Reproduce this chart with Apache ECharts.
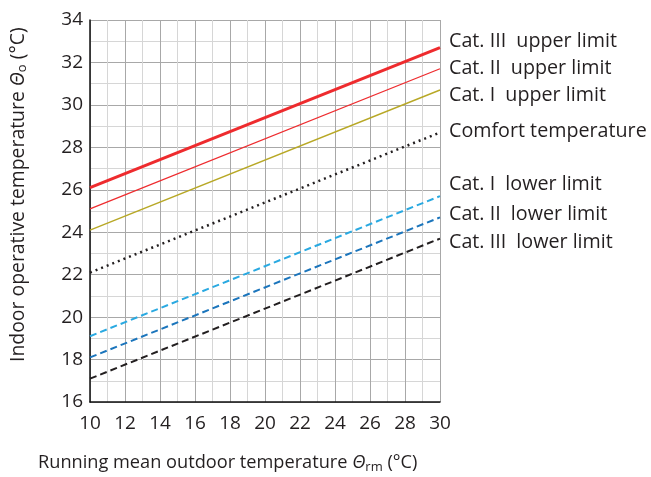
<!DOCTYPE html>
<html>
<head>
<meta charset="utf-8">
<script src="https://cdn.jsdelivr.net/npm/echarts@6/dist/echarts.min.js"></script>
<style>html,body{margin:0;padding:0;background:#fff}#c{width:651px;height:477px}</style>
</head>
<body>
<div id="c"></div>
<script>
var xValues = [10, 30];
var catIIIUpper = [26.1, 32.7];
var catIIUpper = [25.1, 31.7];
var catIUpper = [24.1, 30.7];
var comfort = [22.1, 28.7];
var catILower = [19.1, 25.7];
var catIILower = [18.1, 24.7];
var catIIILower = [17.1, 23.7];
var xTicks = [10, 12, 14, 16, 18, 20, 22, 24, 26, 28, 30];
var yTicks = [16, 18, 20, 22, 24, 26, 28, 30, 32, 34];

var FONT = '"Open Sans", "Noto Sans", sans-serif';
function pairs(arr) { return xValues.map(function (x, i) { return [x, arr[i]]; }); }

function mk(name, data, color, width, type, dy) {
  return {
    name: name, type: 'line', data: pairs(data), symbol: 'none', silent: true,
    lineStyle: { color: color, width: width, type: type },
    endLabel: {
      show: true, formatter: name, color: '#231f20', fontSize: 19.7,
      fontFamily: FONT, distance: 9, offset: [0, dy]
    }
  };
}

var chart = echarts.init(document.getElementById('c'));
chart.setOption({
  animation: false,
  grid: { left: 90, right: 211, top: 20, bottom: 75 },
  xAxis: {
    type: 'value', min: 10, max: 30, interval: 2,
    axisLine: { show: true, onZero: false, lineStyle: { color: '#111', width: 1.5 } },
    axisTick: { show: false },
    axisLabel: { color: '#231f20', fontSize: 19, fontFamily: FONT, margin: 12,
      formatter: function (v) { return xTicks.indexOf(v) >= 0 ? String(v) : ''; } },
    splitLine: { show: true, lineStyle: { color: '#a8a8a8', width: 1 } },
    minorTick: { show: false, splitNumber: 2 },
    minorSplitLine: { show: true, lineStyle: { color: '#d6d6d6', width: 1 } }
  },
  yAxis: {
    type: 'value', min: 16, max: 34, interval: 2,
    axisLine: { show: true, onZero: false, lineStyle: { color: '#111', width: 1.5 } },
    axisTick: { show: false },
    axisLabel: { color: '#231f20', fontSize: 19, fontFamily: FONT, margin: 7,
      formatter: function (v) { return yTicks.indexOf(v) >= 0 ? String(v) : ''; } },
    splitLine: { show: true, lineStyle: { color: '#a8a8a8', width: 1 } },
    minorTick: { show: false, splitNumber: 2 },
    minorSplitLine: { show: true, lineStyle: { color: '#d6d6d6', width: 1 } }
  },
  series: [
    mk('Cat. III  upper limit', catIIIUpper, '#ee2b2e', 3, 'solid', -6),
    mk('Cat. II  upper limit', catIIUpper, '#ee2b2e', 1.2, 'solid', 0),
    mk('Cat. I  upper limit', catIUpper, '#b8a826', 1.5, 'solid', 5),
    mk('Comfort temperature', comfort, '#231f20', 2.5, [2, 4], -1),
    mk('Cat. I  lower limit', catILower, '#29a9e1', 2, [7, 4], -12),
    mk('Cat. II  lower limit', catIILower, '#1b75bc', 2, [7, 4], -3),
    mk('Cat. III  lower limit', catIIILower, '#231f20', 2, [7, 4], 4)
  ],
  graphic: [
    {
      type: 'text', left: 38, top: 454,
      style: {
        text: '{n|Running mean outdoor temperature }{t|Θ}{s|rm}{n| (°C)}',
        rich: {
          n: { fontSize: 18.2, fontFamily: FONT, fill: '#231f20' },
          t: { fontSize: 18.2, fontFamily: FONT, fontStyle: 'italic', fill: '#231f20' },
          s: { fontSize: 13, fontFamily: FONT, fill: '#231f20', padding: [9, 0, 0, 0] }
        }
      }
    },
    {
      type: 'text', x: 7, y: 362, rotation: Math.PI / 2,
      style: {
        text: '{n|Indoor operative temperature }{t|Θ}{s|o}{n| (°C)}',
        rich: {
          n: { fontSize: 19.4, fontFamily: FONT, fill: '#231f20' },
          t: { fontSize: 19.4, fontFamily: FONT, fontStyle: 'italic', fill: '#231f20' },
          s: { fontSize: 13, fontFamily: FONT, fill: '#231f20', padding: [9, 0, 0, 0] }
        }
      }
    }
  ]
});
</script>
</body>
</html>
